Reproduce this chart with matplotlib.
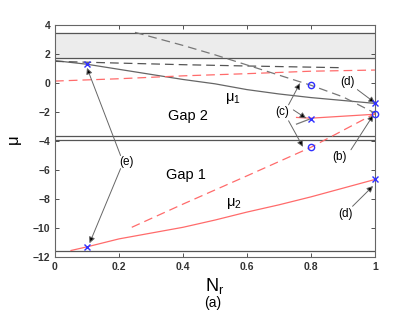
"""
Gap diagram: mu vs N_r, two gaps with the eigenvalue branches mu_1 and mu_2.
"""
import matplotlib
matplotlib.use("Agg")
import matplotlib.pyplot as plt

plt.rcParams["font.family"] = ["Liberation Sans", "DejaVu Sans"]
plt.rcParams["mathtext.default"] = "regular"

GRIS = "#555555"
ROJO = "#ff6b6b"
AZUL = "#3030ff"

# band edges (horizontal lines)
band_top = [3.47, 1.72]
gap_lines = [-3.68, -3.93, -11.57]

# mu_1 branch (solid dark)
nr_mu1 = [0, 0.1, 0.2, 0.3, 0.4, 0.5, 0.6, 0.7, 0.8, 0.9, 1.0]
mu1 = [1.55, 1.3, 0.95, 0.6, 0.25, -0.05, -0.45, -0.75, -1.0, -1.2, -1.4]

# upper dashed branches
nr_up = [0, 0.2, 0.4, 0.6, 0.8, 0.9]
mu_up_gris = [1.5, 1.38, 1.27, 1.18, 1.1, 1.06]
nr_up_rojo = [0, 0.2, 0.4, 0.6, 0.8, 1.0]
mu_up_rojo = [0.14, 0.3, 0.5, 0.65, 0.82, 0.9]

# steep dashed branch from the upper band
nr_steep = [0.25, 0.4, 0.5, 0.6, 0.7, 0.8, 0.9, 1.0]
mu_steep = [3.5, 2.6, 1.95, 1.25, 0.55, -0.15, -0.95, -2.07]

# lower dashed red branch
nr_low = [0.24, 0.4, 0.6, 0.8, 1.0]
mu_low = [-9.95, -8.35, -6.4, -4.43, -2.1]

# mu_2 branch (solid red)
nr_mu2 = [0.05, 0.1, 0.2, 0.3, 0.4, 0.5, 0.6, 0.7, 0.8, 0.9, 1.0]
mu2 = [-11.55, -11.3, -10.75, -10.35, -9.95, -9.45, -8.9, -8.4, -7.85, -7.25, -6.65]

# short pieces around point (c)
nr_c_rojo = [0.755, 0.8, 1.0]
mu_c_rojo = [-2.37, -2.42, -2.15]
nr_c_gris = [0.755, 0.8]
mu_c_gris = [-2.83, -2.45]

# marked points
cruz_x = [0.1, 0.1, 0.8, 1.0, 1.0]
cruz_y = [1.3, -11.3, -2.45, -1.4, -6.65]
circ_x = [0.8, 0.8, 1.0]
circ_y = [-0.15, -4.43, -2.1]

fig = plt.figure(figsize=(4.15, 3.14), dpi=100)
ax = fig.add_axes([0.1325, 0.1815, 0.771, 0.7385])

ax.axhspan(band_top[1], band_top[0], color="#ececec", zorder=0)
for y in band_top + gap_lines:
    ax.axhline(y, color=GRIS, lw=0.9, zorder=1)

ax.plot(nr_mu1, mu1, color="#666666", lw=0.9)
ax.plot(nr_up, mu_up_gris, color=GRIS, lw=0.9, ls=(0, (7, 4)))
ax.plot(nr_up_rojo, mu_up_rojo, color=ROJO, lw=0.9, ls=(0, (7, 4)))
ax.plot(nr_steep, mu_steep, color="#777777", lw=0.9, ls=(0, (7, 4)))
ax.plot(nr_low, mu_low, color=ROJO, lw=0.9, ls=(0, (7, 4)))
ax.plot(nr_mu2, mu2, color=ROJO, lw=0.9)
ax.plot(nr_c_rojo, mu_c_rojo, color=ROJO, lw=0.9)
ax.plot(nr_c_gris, mu_c_gris, color="#777777", lw=0.9)

ax.plot(cruz_x, cruz_y, "x", color=AZUL, ms=4.5, mew=1.0, ls="none", zorder=5, clip_on=False)
ax.plot(circ_x, circ_y, "o", mfc="none", mec=AZUL, ms=4.5, mew=1.0, ls="none", zorder=5, clip_on=False)

flecha = dict(arrowstyle="-|>", color="#666666", fc="black", lw=0.7, mutation_scale=9,
              shrinkA=0, shrinkB=0)
fs = 8.5
ax.text(0.915, 0.05, "(d)", fontsize=fs, ha="center", va="center")
ax.annotate("", xy=(1.0, -1.36), xytext=(0.945, -0.45), arrowprops=flecha)
ax.text(0.71, -1.98, "(c)", fontsize=fs, ha="center", va="center")
ax.annotate("", xy=(0.766, 0.0), xytext=(0.73, -1.5), arrowprops=flecha)
ax.annotate("", xy=(0.785, -2.43), xytext=(0.745, -1.85), arrowprops=flecha)
ax.annotate("", xy=(0.775, -4.4), xytext=(0.73, -2.6), arrowprops=flecha)
ax.text(0.89, -5.08, "(b)", fontsize=fs, ha="center", va="center")
ax.annotate("", xy=(0.995, -2.2), xytext=(0.925, -4.6), arrowprops=flecha)
ax.text(0.908, -9.0, "(d)", fontsize=fs, ha="center", va="center")
ax.annotate("", xy=(0.994, -7.1), xytext=(0.93, -8.5), arrowprops=flecha)
ax.text(0.224, -5.43, "(e)", fontsize=fs, ha="center", va="center")
ax.annotate("", xy=(0.1, 1.05), xytext=(0.205, -5.0), arrowprops=flecha)
ax.annotate("", xy=(0.108, -11.05), xytext=(0.205, -5.9), arrowprops=flecha)

ax.text(0.416, -2.28, "Gap 2", fontsize=10.5, ha="center", va="center")
ax.text(0.41, -6.35, "Gap 1", fontsize=10.5, ha="center", va="center")
ax.text(0.556, -1.05, r"$\mu_1$", fontsize=10.5, ha="center", va="center")
ax.text(0.56, -8.3, r"$\mu_2$", fontsize=10.5, ha="center", va="center")

ax.set_xlim(0, 1)
ax.set_ylim(-12, 4)
ax.set_xticks([0, 0.2, 0.4, 0.6, 0.8, 1])
ax.set_xticklabels(["0", "0.2", "0.4", "0.6", "0.8", "1"])
ax.set_yticks([-12, -10, -8, -6, -4, -2, 0, 2, 4])
ax.tick_params(direction="in", length=3, width=0.6, labelsize=7.5, top=True, right=True,
               colors="#333333")
for lbl in ax.get_xticklabels() + ax.get_yticklabels():
    lbl.set_fontweight("bold")
for s in ax.spines.values():
    s.set_color("#666666")
    s.set_linewidth(0.8)

ax.set_xlabel(r"$N_r$", fontsize=13, labelpad=3)
ax.set_ylabel(r"$\mu$", fontsize=12, labelpad=6)
fig.text(0.513, 0.035, "(a)", fontsize=10, ha="center", va="center")

fig.savefig("out.png", dpi=100)
